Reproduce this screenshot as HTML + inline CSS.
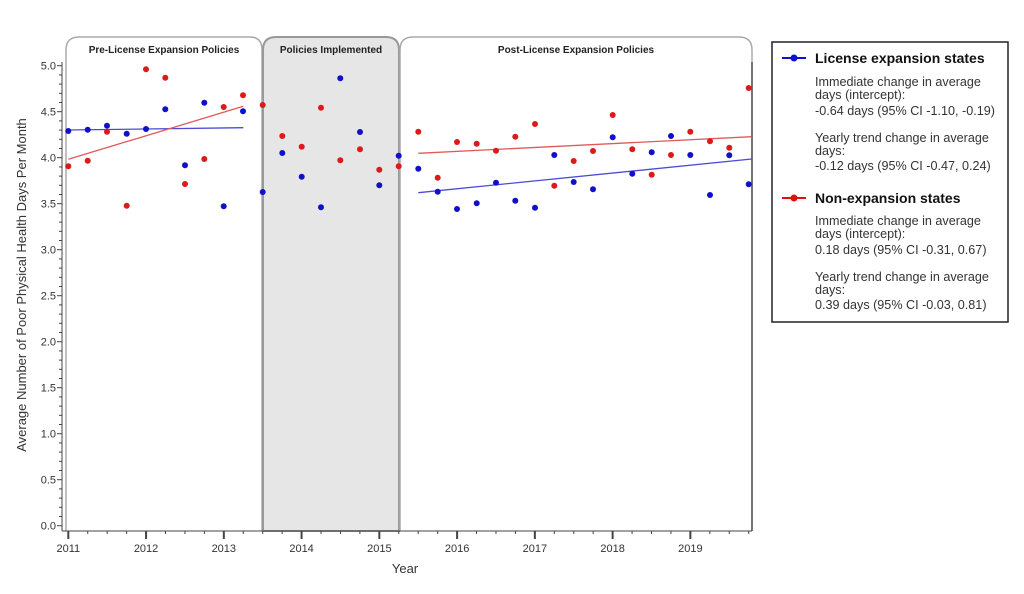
<!DOCTYPE html>
<html><head><meta charset="utf-8"><style>
html,body{margin:0;padding:0;background:#fff;}
svg{display:block;font-family:"Liberation Sans",Arial,sans-serif;}
</style></head><body>
<svg width="1024" height="594" viewBox="0 0 1024 594" xmlns="http://www.w3.org/2000/svg">
<rect width="1024" height="594" fill="#fff"/>
<path d="M66,531 V50 Q66,37 79,37 H250 Q262,37 262,50 V531" fill="#fff" stroke="#aaa" stroke-width="1.5"/>
<path d="M263,531 V50 Q263,37 276,37 H386 Q399,37 399,50 V531 Z" fill="#e6e6e6" stroke="#999" stroke-width="2"/>
<path d="M400,531 V50 Q400,37 413,37 H739 Q752,37 752,50 V531" fill="#fff" stroke="#aaa" stroke-width="1.5"/>
<line x1="752" y1="62" x2="752" y2="531" stroke="#555" stroke-width="1.5"/>
<text x="164" y="53" font-size="10" font-weight="bold" text-anchor="middle" fill="#222">Pre-License Expansion Policies</text>
<text x="331" y="53" font-size="10" font-weight="bold" text-anchor="middle" fill="#222">Policies Implemented</text>
<text x="576" y="53" font-size="10" font-weight="bold" text-anchor="middle" fill="#222">Post-License Expansion Policies</text>
<line x1="62" y1="62" x2="62" y2="531" stroke="#444" stroke-width="1"/>
<line x1="62" y1="531" x2="752" y2="531" stroke="#444" stroke-width="1"/>
<g id="yt" stroke="#444" stroke-width="1"></g>
<g id="ylab" font-size="11" fill="#333" text-anchor="end"></g>
<g id="xt" stroke="#444"></g>
<g id="xlab" font-size="11" fill="#333" text-anchor="middle"></g>
<text x="405" y="573" font-size="13" text-anchor="middle" fill="#333">Year</text>
<text transform="translate(26,285) rotate(-90)" font-size="13" text-anchor="middle" fill="#333">Average Number of Poor Physical Health Days Per Month</text>
<line x1="68.3" y1="130" x2="243.3" y2="127.7" stroke="#4b4bd6" stroke-width="1.3"/>
<line x1="68.3" y1="159.3" x2="243.3" y2="106.3" stroke="#e05a5a" stroke-width="1.3"/>
<line x1="418.3" y1="153.3" x2="751.7" y2="136.7" stroke="#e05a5a" stroke-width="1.3"/>
<line x1="418.3" y1="192.7" x2="751.7" y2="159" stroke="#4b4bd6" stroke-width="1.3"/>
<g id="pts"></g>
<rect x="772" y="42" width="236" height="280" fill="#fff" stroke="#222" stroke-width="1.5"/>
<line x1="782" y1="58" x2="806" y2="58" stroke="#1010d0" stroke-width="2"/>
<circle cx="794" cy="58" r="3.5" fill="#1010d0"/>
<text x="815" y="63" font-size="14" font-weight="bold" fill="#111">License expansion states</text>
<g font-size="12.6" fill="#333">
<text x="815" y="86">Immediate change in average</text>
<text x="815" y="99">days (intercept):</text>
<text x="815" y="115">-0.64 days (95% CI -1.10, -0.19)</text>
<text x="815" y="142">Yearly trend change in average</text>
<text x="815" y="155">days:</text>
<text x="815" y="170">-0.12 days (95% CI -0.47, 0.24)</text>
</g>
<line x1="782" y1="198" x2="806" y2="198" stroke="#e01010" stroke-width="2"/>
<circle cx="794" cy="198" r="3.5" fill="#e01010"/>
<text x="815" y="203" font-size="14" font-weight="bold" fill="#111">Non-expansion states</text>
<g font-size="12.6" fill="#333">
<text x="815" y="225">Immediate change in average</text>
<text x="815" y="238">days (intercept):</text>
<text x="815" y="254">0.18 days (95% CI -0.31, 0.67)</text>
<text x="815" y="281">Yearly trend change in average</text>
<text x="815" y="294">days:</text>
<text x="815" y="309">0.39 days (95% CI -0.03, 0.81)</text>
</g>
</svg>
<script>
var NS="http://www.w3.org/2000/svg";
function el(t,a,p,txt){var e=document.createElementNS(NS,t);for(var k in a)e.setAttribute(k,a[k]);if(txt)e.textContent=txt;document.getElementById(p).appendChild(e);}
for(var i=0;i<=50;i++){var y=525.7-9.2*i;var L=(i%5==0)?5:3;el("line",{x1:62-L,y1:y,x2:62,y2:y},"yt");if(i%5==0)el("text",{x:56,y:y+4},"ylab",(i/10).toFixed(1));}
for(var q=0;q<=35;q++){var x=68.3+19.44*q;var L=(q%4==0)?8:3;el("line",{x1:x,y1:531,x2:x,y2:531+L,"stroke-width":q%4==0?2:1},"xt");if(q%4==0)el("text",{x:x,y:552},"xlab",String(2011+q/4));}
var red=[[68.3,166.3],[87.7,160.7],[107,131.7],[126.7,205.7],[146,69.3],[165.3,77.7],[185,184],[204.3,159],[223.7,107],[243,95.3],[262.7,105],[282.3,136],[301.7,146.7],[321,107.7],[340.3,160.3],[360,149.3],[379.3,169.7],[398.7,166.3],[418.3,131.7],[437.7,177.7],[457,142],[476.7,143.7],[496,150.7],[515.3,136.7],[535,124],[554.3,185.7],[573.7,161],[593,151],[612.7,115],[632.3,149.3],[651.7,174.7],[671,155],[690.3,131.7],[710,141.3],[729.3,147.7],[748.7,88]];
var blue=[[68.3,131],[87.7,129.7],[107,125.7],[126.7,133.7],[146,129],[165.3,109.3],[185,165.3],[204.3,102.7],[223.7,206.3],[243,111.3],[262.7,192],[282.3,153],[301.7,176.7],[321,207.3],[340.3,78.3],[360,132],[379.3,185.3],[398.7,155.7],[418.3,168.7],[437.7,191.7],[457,209],[476.7,203.3],[496,182.7],[515.3,200.7],[535,207.7],[554.3,155],[573.7,182],[593,189.3],[612.7,137.3],[632.3,173.7],[651.7,152.3],[671,136],[690.3,155],[710,195],[729.3,155.3],[748.7,184.3]];
red.forEach(function(p){el("circle",{cx:p[0],cy:p[1],r:3,fill:"#dd1a1a"},"pts");});
blue.forEach(function(p){el("circle",{cx:p[0],cy:p[1],r:3,fill:"#1010c8"},"pts");});
</script>
</body></html>
